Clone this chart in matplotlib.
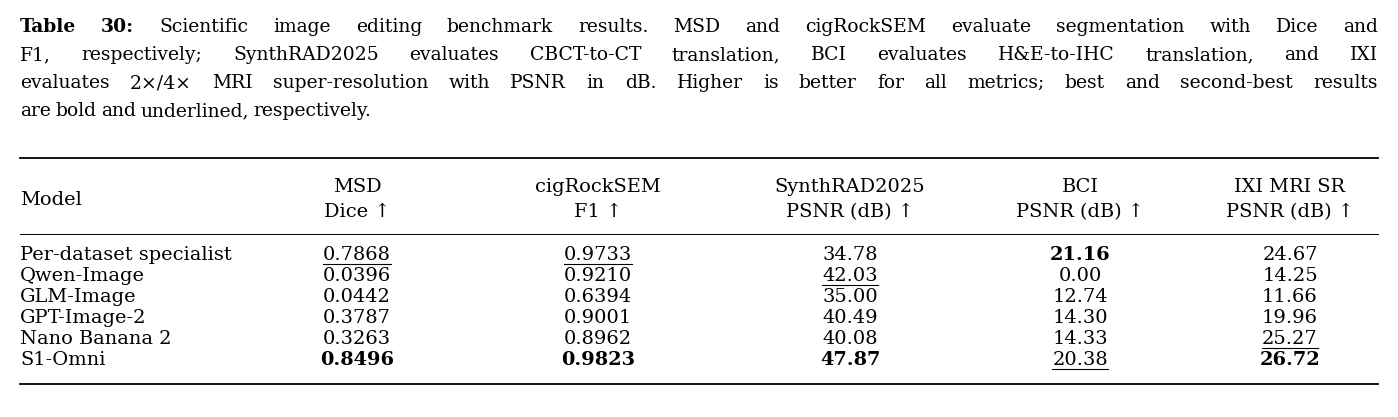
import numpy as np
import matplotlib.pyplot as plt

plt.rcParams['font.family'] = ['DejaVu Serif']

models = ["Per-dataset specialist", "Qwen-Image", "GLM-Image", "GPT-Image-2",
          "Nano Banana 2", "S1-Omni"]
col_top = ["MSD", "cigRockSEM", "SynthRAD2025", "BCI", "IXI MRI SR"]
col_bot = ["Dice \u2191", "F1 \u2191", "PSNR (dB) \u2191", "PSNR (dB) \u2191", "PSNR (dB) \u2191"]
msd = [0.7868, 0.0396, 0.0442, 0.3787, 0.3263, 0.8496]
cig = [0.9733, 0.9210, 0.6394, 0.9001, 0.8962, 0.9823]
synth = [34.78, 42.03, 35.00, 40.49, 40.08, 47.87]
bci = [21.16, 0.00, 12.74, 14.30, 14.33, 20.38]
ixi = [24.67, 14.25, 11.66, 19.96, 25.27, 26.72]
columns = [msd, cig, synth, bci, ixi]
decimals = [4, 4, 2, 2, 2]

caption = [
    "Table 30: Scientific image editing benchmark results. MSD and cigRockSEM evaluate segmentation with Dice and",
    "F1, respectively; SynthRAD2025 evaluates CBCT-to-CT translation, BCI evaluates H&E-to-IHC translation, and IXI",
    "evaluates 2\u00d7/4\u00d7 MRI super-resolution with PSNR in dB. Higher is better for all metrics; best and second-best results",
    "are bold and underlined, respectively.",
]

W, H = 1398, 417
fig = plt.figure(figsize=(W / 100, H / 100), dpi=100)
ax = fig.add_axes([0, 0, 1, 1])
ax.set_xlim(0, W)
ax.set_ylim(H, 0)
ax.axis('off')
fig.canvas.draw()
r = fig.canvas.get_renderer()
inv = ax.transData.inverted()


def width(t):
    b = t.get_window_extent(r).transformed(inv)
    return b.x1 - b.x0, b


def fit_size(s, target, **kw):
    t = ax.text(0, 0, s, fontsize=10, **kw)
    w, _ = width(t)
    t.remove()
    return 10 * target / w


fs_cap = fit_size(caption[3], 362)
fs_tab = fit_size(models[0], 212)

x0, x1 = 20, 1378

# caption, lines 1-3 justified
for i, line in enumerate(caption):
    y = 27 + 28 * i
    words = line.split(" ")
    arts = []
    for j, wd in enumerate(words):
        bold = i == 0 and j < 2
        arts.append(ax.text(0, y, wd, fontsize=fs_cap, va='center',
                            fontweight='bold' if bold else 'normal'))
    ws = [width(a)[0] for a in arts]
    if i < 3:
        gap = (x1 - x0 - sum(ws)) / (len(words) - 1)
    else:
        gap = fs_cap * 0.33
    x = x0
    for a, w in zip(arts, ws):
        a.set_x(x)
        x += w + gap

# rules
ax.plot([x0, x1], [158, 158], color='black', lw=1.3)
ax.plot([x0, x1], [234, 234], color='black', lw=0.7)
ax.plot([x0, x1], [384, 384], color='black', lw=1.3)

col_x = [357, 598, 850, 1080, 1290]
ax.text(x0, 200, "Model", fontsize=fs_tab, va='center')
for cx, t, b in zip(col_x, col_top, col_bot):
    ax.text(cx, 187, t, fontsize=fs_tab, va='center', ha='center')
    ax.text(cx, 212, b, fontsize=fs_tab, va='center', ha='center')

row_y = [255, 276, 297, 318, 339, 360]
for ry, m in zip(row_y, models):
    ax.text(x0, ry, m, fontsize=fs_tab, va='center')

underlines = []
for cx, vals, d in zip(col_x, columns, decimals):
    order = np.argsort(vals)[::-1]
    best, second = order[0], order[1]
    for i, (ry, v) in enumerate(zip(row_y, vals)):
        t = ax.text(cx, ry, f"{v:.{d}f}", fontsize=fs_tab, va='center', ha='center',
                    fontweight='bold' if i == best else 'normal')
        if i == second:
            underlines.append(t)

fig.canvas.draw()
for t in underlines:
    _, b = width(t)
    yb = ry_b = t.get_position()[1] + 9
    ax.plot([b.x0, b.x1], [yb, yb], color='black', lw=0.8)

fig.savefig('out.png', dpi=100)
